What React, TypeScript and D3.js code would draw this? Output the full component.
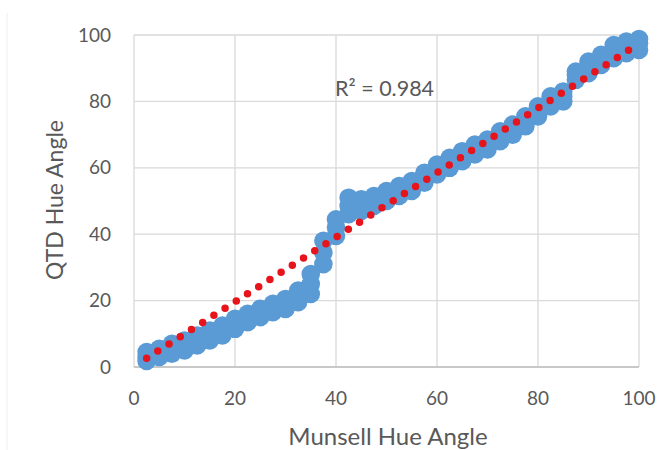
import React, { useRef, useEffect } from 'react';
import * as d3 from 'd3';

// Munsell hue positions (x) and three QTD readings at each one
const munsellHue = [2.5, 5, 7.5, 10, 12.5, 15, 17.5, 20, 22.5, 25, 27.5, 30, 32.5, 35, 37.5, 40,
    42.5, 45, 47.5, 50, 52.5, 55, 57.5, 60, 62.5, 65, 67.5, 70, 72.5, 75, 77.5, 80, 82.5, 85,
    87.5, 90, 92.5, 95, 97.5, 100];
const qtdLow = [1.8, 3, 4, 5, 6.5, 8, 9.5, 11.5, 13.5, 15, 16.5, 17.5, 19.5, 22, 31, 39.5,
    46, 47, 48.5, 50, 51.5, 53, 55.5, 58, 60, 62, 64, 65.5, 68, 70, 72.5, 75.5, 78.5, 80,
    86.5, 88.5, 91, 93, 94.5, 95.5];
const qtdMid = [3, 4, 5.5, 6.5, 8, 9.5, 11, 13, 15, 16.5, 17.5, 19, 21, 25, 34.5, 42,
    48.5, 49, 50, 51.5, 53, 54.5, 57, 59.5, 61.5, 63.5, 65.5, 67, 69.5, 71.5, 74, 77, 80, 81.5,
    88, 90, 92.5, 95, 96.5, 97.5];
const qtdHigh = [4.5, 5.5, 7, 8, 9.5, 11, 12.5, 14.5, 16, 17.5, 19, 20.5, 23, 28, 38, 44.5,
    51, 50.5, 51.5, 53, 54.5, 56, 58.5, 61, 63, 65, 67, 68.5, 71, 73, 75.5, 78.5, 81.5, 83,
    89, 92, 94, 97, 98, 98.8];

// linear trendline
const trendSlope = 0.972;
const trendIntercept = 0.2;
const rSquared = '0.984';

const xTicks = [0, 20, 40, 60, 80, 100];
const yTicks = [0, 20, 40, 60, 80, 100];

const App = () => {
    const width = 662;
    const height = 450;
    const margin = { left: 134, right: 23, top: 35, bottom: 83 };
    const chartRef = useRef(null);

    useEffect(() => {
        if (!chartRef.current) return;
        const root = d3.select(chartRef.current);
        root.selectAll('*').remove();

        const svg = root.append('svg')
            .attr('width', width)
            .attr('height', height)
            .style('position', 'absolute')
            .style('left', 0)
            .style('top', 0)
            .style('font-family', 'Lato, sans-serif');

        svg.append('rect')
            .attr('x', 0).attr('y', 0)
            .attr('width', width).attr('height', height)
            .attr('fill', '#fff');

        // faint chart border on the left
        svg.append('line')
            .attr('x1', 7).attr('x2', 7)
            .attr('y1', 13).attr('y2', height)
            .attr('stroke', '#eeeeee');

        const x = d3.scaleLinear().domain([0, 100]).range([margin.left, width - margin.right]);
        const y = d3.scaleLinear().domain([0, 100]).range([height - margin.bottom, margin.top]);

        // gridlines
        svg.append('g').selectAll('line')
            .data(yTicks)
            .enter().append('line')
            .attr('x1', x(0)).attr('x2', x(100))
            .attr('y1', d => y(d)).attr('y2', d => y(d))
            .attr('stroke', '#d9d9d9')
            .attr('stroke-width', 1.3);
        svg.append('g').selectAll('line')
            .data(xTicks)
            .enter().append('line')
            .attr('x1', d => x(d)).attr('x2', d => x(d))
            .attr('y1', y(0)).attr('y2', y(100))
            .attr('stroke', '#d9d9d9')
            .attr('stroke-width', 1.3);
        svg.append('line')
            .attr('x1', x(0)).attr('x2', x(100))
            .attr('y1', y(0)).attr('y2', y(0))
            .attr('stroke', '#bfbfbf')
            .attr('stroke-width', 1.3);

        // tick labels
        svg.append('g').selectAll('text')
            .data(yTicks)
            .enter().append('text')
            .attr('x', x(0) - 23)
            .attr('y', d => y(d))
            .attr('dy', '0.35em')
            .attr('text-anchor', 'end')
            .attr('fill', '#595959')
            .style('font-size', '19px')
            .text(d => d);
        svg.append('g').selectAll('text')
            .data(xTicks)
            .enter().append('text')
            .attr('x', d => x(d))
            .attr('y', y(0) + 31)
            .attr('dy', '0.35em')
            .attr('text-anchor', 'middle')
            .attr('fill', '#595959')
            .style('font-size', '19px')
            .text(d => d);

        // axis titles
        svg.append('text')
            .attr('x', 388)
            .attr('y', 437)
            .attr('dy', '0.35em')
            .attr('text-anchor', 'middle')
            .attr('fill', '#595959')
            .style('font-size', '24px')
            .text('Munsell Hue Angle');
        svg.append('text')
            .attr('transform', `translate(55, 200) rotate(-90)`)
            .attr('dy', '0.35em')
            .attr('text-anchor', 'middle')
            .attr('fill', '#595959')
            .style('font-size', '23px')
            .text('QTD Hue Angle');

        // scatter points
        const points = munsellHue.flatMap((h, i) => [
            { h, q: qtdLow[i] }, { h, q: qtdMid[i] }, { h, q: qtdHigh[i] }
        ]);
        svg.append('g').selectAll('circle')
            .data(points)
            .enter().append('circle')
            .attr('cx', d => x(d.h))
            .attr('cy', d => y(d.q))
            .attr('r', 9.3)
            .attr('fill', '#5b9bd5');

        // dotted trendline
        const xMin = d3.min(munsellHue);
        const xMax = d3.max(munsellHue);
        const trend = [xMin, xMax].map(h => [h, trendSlope * h + trendIntercept]);
        svg.append('path')
            .datum(trend)
            .attr('d', d3.line().x(d => x(d[0])).y(d => y(d[1])))
            .attr('fill', 'none')
            .attr('stroke', '#e8141b')
            .attr('stroke-width', 7.5)
            .attr('stroke-linecap', 'round')
            .attr('stroke-dasharray', '0 13.3');

        svg.append('text')
            .attr('x', 335)
            .attr('y', 88)
            .attr('dy', '0.35em')
            .attr('fill', '#595959')
            .style('font-size', '21.5px')
            .text(`R² = ${rSquared}`);
    }, []);

    return <div ref={chartRef}></div>;
};

export default App;
